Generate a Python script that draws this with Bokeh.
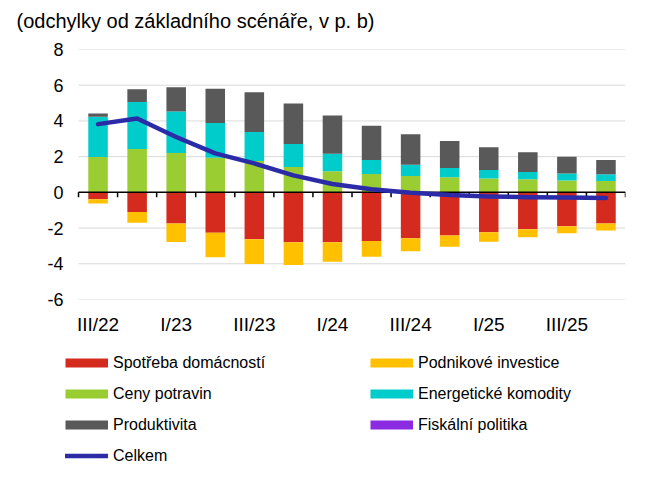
import numpy as np
from bokeh.plotting import figure
from bokeh.layouts import column
from bokeh.models import (ColumnDataSource, Range1d, FixedTicker, Legend,
                          LegendItem, Title)
from bokeh.embed import file_html
from bokeh.resources import INLINE

categories = ["III/22", "IV/22", "I/23", "II/23", "III/23", "IV/23", "I/24",
              "II/24", "III/24", "IV/24", "I/25", "II/25", "III/25", "IV/25"]
tick_labels = ["III/22", "I/23", "III/23", "I/24", "III/24", "I/25", "III/25"]
y_ticks = [-6, -4, -2, 0, 2, 4, 6, 8]

spotreba = [-0.39, -1.10, -1.74, -2.26, -2.63, -2.80, -2.80, -2.72, -2.57, -2.41, -2.24, -2.07, -1.90, -1.75]
investice = [-0.23, -0.60, -1.04, -1.38, -1.38, -1.27, -1.08, -0.88, -0.73, -0.63, -0.52, -0.45, -0.39, -0.38]
potraviny = [1.98, 2.43, 2.20, 1.94, 1.75, 1.42, 1.18, 1.03, 0.91, 0.84, 0.78, 0.73, 0.67, 0.63]
energie = [2.25, 2.63, 2.33, 1.94, 1.63, 1.29, 0.98, 0.78, 0.64, 0.52, 0.47, 0.41, 0.39, 0.38]
produktivita = [0.19, 0.72, 1.35, 1.92, 2.22, 2.27, 2.15, 1.92, 1.70, 1.51, 1.27, 1.10, 0.94, 0.80]
fiskalni = [0, 0, 0, 0, 0, 0, 0, 0, 0, 0, 0, 0, 0, 0]
celkem = [3.82, 4.14, 3.10, 2.18, 1.62, 0.95, 0.47, 0.17, -0.02, -0.15, -0.23, -0.27, -0.29, -0.31]

names = ["Spotřeba domácností", "Podnikové investice", "Ceny potravin",
         "Energetické komodity", "Produktivita", "Fiskální politika", "Celkem"]
colors = {"spotreba": "#D52B1E", "investice": "#FFC000", "potraviny": "#9ACD32",
          "energie": "#00CCCC", "produktivita": "#595959", "fiskalni": "#8A2BE2",
          "celkem": "#2B2BA8"}

FONT = "Liberation Sans"
n = len(categories)
xs = np.arange(n) + 0.5
source = ColumnDataSource(dict(x=xs, spotreba=spotreba, investice=investice,
                               potraviny=potraviny, energie=energie,
                               produktivita=produktivita, fiskalni=fiskalni,
                               celkem=celkem))

p = figure(width=654, height=340, output_backend="svg", toolbar_location=None,
           x_range=Range1d(-0.333, n), y_range=Range1d(-6, 8),
           min_border_left=65, min_border_right=29, min_border_top=49,
           min_border_bottom=41, title=None)
p.outline_line_color = None
p.background_fill_color = "white"

# title (spacer keeps it away from the frame)
p.add_layout(Title(text=" ", text_font_size="10px", standoff=0), "above")
p.add_layout(Title(text="(odchylky od základního scénáře, v p. b)", text_font=FONT,
                   text_font_size="20px", text_font_style="normal", text_color="black",
                   align="left", offset=-49), "above")

# horizontal grid lines spanning the category area
p.xgrid.visible = False
p.ygrid.visible = False
grid_y = [t for t in y_ticks if t != 0]
p.segment(x0=np.zeros(len(grid_y)), y0=grid_y, x1=np.full(len(grid_y), n), y1=grid_y,
          line_color="#D9D9D9", line_width=1)

# y axis
p.yaxis.ticker = FixedTicker(ticks=y_ticks)
p.yaxis.major_label_overrides = {t: str(t) for t in y_ticks}
p.yaxis.axis_line_color = None
p.yaxis.major_tick_line_color = None
p.yaxis.major_tick_out = 0
p.yaxis.major_tick_in = 0
p.yaxis.minor_tick_line_color = None
p.yaxis.major_label_standoff = 2
p.yaxis.major_label_text_font = FONT
p.yaxis.major_label_text_font_size = "18px"
p.yaxis.major_label_text_color = "black"

# x axis (labels only)
label_pos = list(xs[::2])
p.xaxis.ticker = FixedTicker(ticks=label_pos)
p.xaxis.major_label_overrides = {float(v): t for v, t in zip(label_pos, tick_labels)}
p.xaxis.axis_line_color = None
p.xaxis.major_tick_line_color = None
p.xaxis.major_tick_out = 0
p.xaxis.major_tick_in = 0
p.xaxis.minor_tick_line_color = None
p.xaxis.major_label_standoff = 14
p.xaxis.major_label_text_font = FONT
p.xaxis.major_label_text_font_size = "19px"
p.xaxis.major_label_text_color = "black"

# stacked bars
p.vbar_stack(["potraviny", "energie", "produktivita"], x="x", width=0.5,
             color=[colors["potraviny"], colors["energie"], colors["produktivita"]],
             line_color=None, source=source)
p.vbar_stack(["spotreba", "investice"], x="x", width=0.5,
             color=[colors["spotreba"], colors["investice"]],
             line_color=None, source=source)

# zero axis line with ticks at category boundaries
bounds = np.arange(n + 1)
p.segment(x0=[bounds[0]], y0=[0], x1=[bounds[-1]], y1=[0],
          line_color="black", line_width=1.5)
p.segment(x0=bounds, y0=np.zeros(len(bounds)), x1=bounds, y1=np.full(len(bounds), -0.28),
          line_color="black", line_width=1.5)

# total line
p.line("x", "celkem", source=source, line_color=colors["celkem"], line_width=4.5,
       line_cap="round", line_join="round")

# legend panel (separate figure below the chart)
lg = figure(width=654, height=132, output_backend="svg", toolbar_location=None,
            min_border_left=0, min_border_right=0, min_border_top=0,
            min_border_bottom=0, x_range=Range1d(0, 1), y_range=Range1d(0, 1))
lg.outline_line_color = None
lg.axis.visible = False
lg.grid.visible = False

keys = ["spotreba", "investice", "potraviny", "energie", "produktivita", "fiskalni"]
nan = np.array([np.nan])
items = []
for k, nm in zip(keys, names[:6]):
    r = lg.line(x=nan, y=nan, line_color=colors[k], line_width=9)
    items.append(LegendItem(label=nm, renderers=[r]))
rl = lg.line(x=nan, y=nan, line_color=colors["celkem"], line_width=4.5, line_cap="round")
items.append(LegendItem(label=names[6], renderers=[rl]))

legend = Legend(items=items, orientation="horizontal", ncols=2,
                location=(0, 1), padding=0, margin=0,
                border_line_color=None, background_fill_alpha=0,
                glyph_width=43, glyph_height=31, label_height=31, label_width=257,
                label_standoff=5, spacing=0,
                label_text_font=FONT, label_text_font_size="16px",
                label_text_color="black")
lg.add_layout(legend, "center")

layout = column(p, lg, spacing=0)
open("out.html", "w").write(file_html(layout, INLINE))
